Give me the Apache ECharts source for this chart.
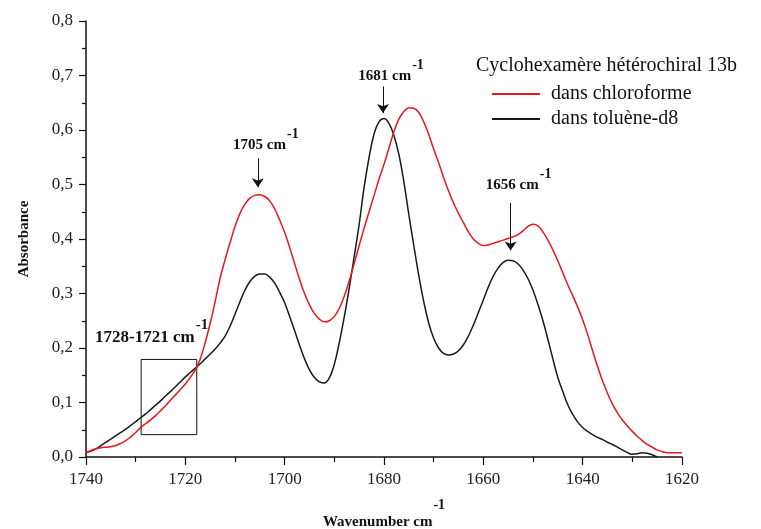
<!DOCTYPE html>
<html>
<head>
<meta charset="utf-8">
<script src="https://cdn.jsdelivr.net/npm/echarts@6/dist/echarts.min.js"></script>
<style>
  html, body { margin: 0; padding: 0; background: #fff; }
  #chart { width: 761px; height: 529px; }
</style>
</head>
<body>
<div id="chart"></div>
<script>
// IR spectra of the heterochiral cyclohexamer 13b, amide I region
const seriesNames = ['dans chloroforme', 'dans toluène-d8'];
const legendTitle = 'Cyclohexamère hétérochiral 13b';

// Wavenumbers (cm-1), one reading per cm-1 from 1740 down to 1620
const wavenumbers = [];
for (let w = 1740; w >= 1620; w--) wavenumbers.push(w);

// Absorbance in chloroform, 1740 -> 1620
const absChloro = [
  0.008, 0.012, 0.015, 0.017, 0.018, 0.019, 0.021, 0.025, 0.030, 0.037,   // 1740-1731
  0.045, 0.054, 0.061, 0.068, 0.076, 0.085, 0.094, 0.104, 0.114, 0.124,   // 1730-1721
  0.134, 0.146, 0.160, 0.180, 0.210, 0.245, 0.285, 0.328, 0.362, 0.393,   // 1720-1711
  0.423, 0.447, 0.464, 0.475, 0.480, 0.481, 0.478, 0.470, 0.455, 0.435,   // 1710-1701
  0.412, 0.385, 0.355, 0.326, 0.300, 0.279, 0.263, 0.253, 0.248, 0.250,   // 1700-1691
  0.258, 0.273, 0.295, 0.323, 0.355, 0.388, 0.420, 0.450, 0.480, 0.510,   // 1690-1681
  0.537, 0.567, 0.597, 0.620, 0.634, 0.641, 0.640, 0.632, 0.615, 0.592,   // 1680-1671
  0.565, 0.540, 0.513, 0.488, 0.466, 0.447, 0.430, 0.413, 0.400, 0.392,   // 1670-1661
  0.388, 0.389, 0.392, 0.395, 0.398, 0.401, 0.404, 0.408, 0.415, 0.423,   // 1660-1651
  0.427, 0.424, 0.413, 0.398, 0.380, 0.360, 0.338, 0.316, 0.296, 0.275,   // 1650-1641
  0.252, 0.225, 0.195, 0.166, 0.140, 0.117, 0.097, 0.081, 0.068, 0.057,   // 1640-1631
  0.047, 0.038, 0.030, 0.023, 0.018, 0.013, 0.010, 0.008, 0.008, 0.008,   // 1630-1621
  0.008                                                                   // 1620
];

// Absorbance in toluene-d8, 1740 -> 1625 (trace ends at 1625)
const absToluene = [
  0.008, 0.011, 0.015, 0.021, 0.027, 0.033, 0.039, 0.045, 0.051, 0.058,   // 1740-1731
  0.065, 0.072, 0.079, 0.087, 0.095, 0.103, 0.112, 0.120, 0.129, 0.138,   // 1730-1721
  0.147, 0.155, 0.163, 0.171, 0.180, 0.189, 0.198, 0.209, 0.222, 0.240,   // 1720-1711
  0.262, 0.285, 0.306, 0.322, 0.332, 0.336, 0.336, 0.330, 0.319, 0.302,   // 1710-1701
  0.283, 0.258, 0.232, 0.205, 0.180, 0.160, 0.146, 0.138, 0.136, 0.145,   // 1700-1691
  0.170, 0.210, 0.257, 0.310, 0.368, 0.427, 0.495, 0.550, 0.593, 0.615,   // 1690-1681
  0.621, 0.612, 0.590, 0.555, 0.505, 0.445, 0.388, 0.333, 0.285, 0.246,   // 1680-1671
  0.218, 0.200, 0.190, 0.187, 0.189, 0.195, 0.206, 0.222, 0.242, 0.265,   // 1670-1661
  0.288, 0.312, 0.332, 0.347, 0.357, 0.361, 0.360, 0.354, 0.343, 0.327,   // 1660-1651
  0.306, 0.280, 0.250, 0.216, 0.180, 0.146, 0.120, 0.096, 0.078, 0.064,   // 1650-1641
  0.054, 0.047, 0.041, 0.036, 0.032, 0.027, 0.023, 0.018, 0.013, 0.008,   // 1640-1631
  0.005, 0.006, 0.008, 0.007, 0.004, 0.000                                // 1630-1625
];

// Band annotations: label text, arrow position, arrow start/end and label height (absorbance units)
const bandLabels = ['1705', '1681', '1656'];
const arrowWn = [1705.4, 1680.2, 1654.5];
const arrowFrom = [0.548, 0.680, 0.466];
const arrowTo = [0.495, 0.631, 0.379];
const labelAbs = [0.574, 0.701, 0.500];

// Highlighted window
const boxWn = [1728.9, 1717.7];
const boxAbs = [0.041, 0.179];
const boxLabel = '1728-1721';
const boxLabelPos = [1728.0, 0.221];

const serif = 'Liberation Serif';

const toPairs = (xs, ys) => ys.map((y, i) => [xs[i], y]);

const supRich = (size, supSize, pad) => ({
  t: { fontFamily: serif, fontWeight: 'bold', fontSize: size, color: '#111' },
  s: { fontFamily: serif, fontWeight: 'bold', fontSize: supSize, color: '#111', padding: [0, 0, pad, 1] }
});

const chart = echarts.init(document.getElementById('chart'), null, { renderer: 'canvas' });

const option = {
  backgroundColor: '#fff',
  animation: false,
  title: {
    text: legendTitle,
    left: 471,
    top: 51,
    textStyle: { fontFamily: serif, fontWeight: 'normal', fontSize: 20, color: '#111' }
  },
  legend: {
    orient: 'vertical',
    left: 487,
    top: 79,
    icon: 'rect',
    itemWidth: 48,
    itemHeight: 2,
    itemGap: 5,
    data: seriesNames,
    textStyle: { fontFamily: serif, fontSize: 20, color: '#111', padding: [0, 0, 0, 6] }
  },
  grid: { left: 86, right: 79, top: 21, bottom: 72, containLabel: false, outerBoundsMode: 'none' },
  xAxis: {
    type: 'value',
    inverse: true,
    min: 1620,
    max: 1740,
    interval: 20,
    name: '{t|Wavenumber cm}{s|-1}',
    nameLocation: 'middle',
    nameGap: 41,
    nameTextStyle: { rich: supRich(15, 14, 34) },
    axisLine: { lineStyle: { color: '#111', width: 1.5 } },
    axisTick: { inside: false, length: 8, lineStyle: { color: '#111', width: 1.2 } },
    minorTick: { show: true, splitNumber: 2, length: 5, lineStyle: { color: '#111', width: 1.2 } },
    splitLine: { show: false },
    axisLabel: { margin: 14, fontFamily: serif, fontSize: 17, color: '#222', formatter: v => String(v) }
  },
  yAxis: {
    type: 'value',
    min: 0,
    max: 0.8,
    interval: 0.1,
    name: 'Absorbance',
    nameLocation: 'middle',
    nameRotate: 90,
    nameGap: 54,
    nameTextStyle: { fontFamily: serif, fontWeight: 'bold', fontSize: 15, color: '#111' },
    axisLine: { show: true, lineStyle: { color: '#111', width: 1.5 } },
    axisTick: { show: true, inside: false, length: 7, lineStyle: { color: '#111', width: 1.2 } },
    minorTick: { show: true, splitNumber: 2, length: 4, lineStyle: { color: '#111', width: 1.2 } },
    splitLine: { show: false },
    axisLabel: {
      margin: 13, fontFamily: serif, fontSize: 17, color: '#222',
      formatter: v => v.toFixed(1).replace('.', ',')
    }
  },
  series: [
    {
      name: seriesNames[0],
      type: 'line',
      data: toPairs(wavenumbers, absChloro),
      smooth: 0.4,
      symbol: 'none',
      lineStyle: { color: '#e8161e', width: 1.5 },
      itemStyle: { color: '#e8161e' },
      z: 3
    },
    {
      name: seriesNames[1],
      type: 'line',
      data: toPairs(wavenumbers, absToluene),
      smooth: 0.4,
      symbol: 'none',
      lineStyle: { color: '#1a1a1a', width: 1.5 },
      itemStyle: { color: '#1a1a1a' },
      z: 2,
      markLine: {
        silent: true,
        symbol: ['none', 'arrow'],
        symbolSize: 9,
        lineStyle: { color: '#111', width: 1, type: 'solid' },
        label: { show: false },
        data: arrowWn.map((x, i) => [
          { coord: [x, arrowFrom[i]] },
          { coord: [x, arrowTo[i]] }
        ])
      },
      markArea: {
        silent: true,
        itemStyle: { color: 'rgba(0,0,0,0)', borderColor: '#111', borderWidth: 1 },
        data: [[{ coord: [boxWn[0], boxAbs[1]] }, { coord: [boxWn[1], boxAbs[0]] }]]
      },
      markPoint: {
        silent: true,
        symbol: 'rect',
        symbolSize: 1,
        itemStyle: { color: 'rgba(0,0,0,0)' },
        data: bandLabels.map((t, i) => ({
          coord: [arrowWn[i], labelAbs[i]],
          label: {
            show: true,
            position: 'inside',
            offset: [8, 1],
            formatter: '{t|' + t + ' cm}{s|-1}',
            rich: supRich(15, 14, 22)
          }
        })).concat([{
          coord: boxLabelPos,
          label: {
            show: true,
            position: 'inside',
            offset: [6, 1],
            formatter: '{t|' + boxLabel + ' cm}{s|-1}',
            rich: supRich(17, 15, 24)
          }
        }])
      }
    }
  ]
};

chart.setOption(option);
</script>
</body>
</html>
